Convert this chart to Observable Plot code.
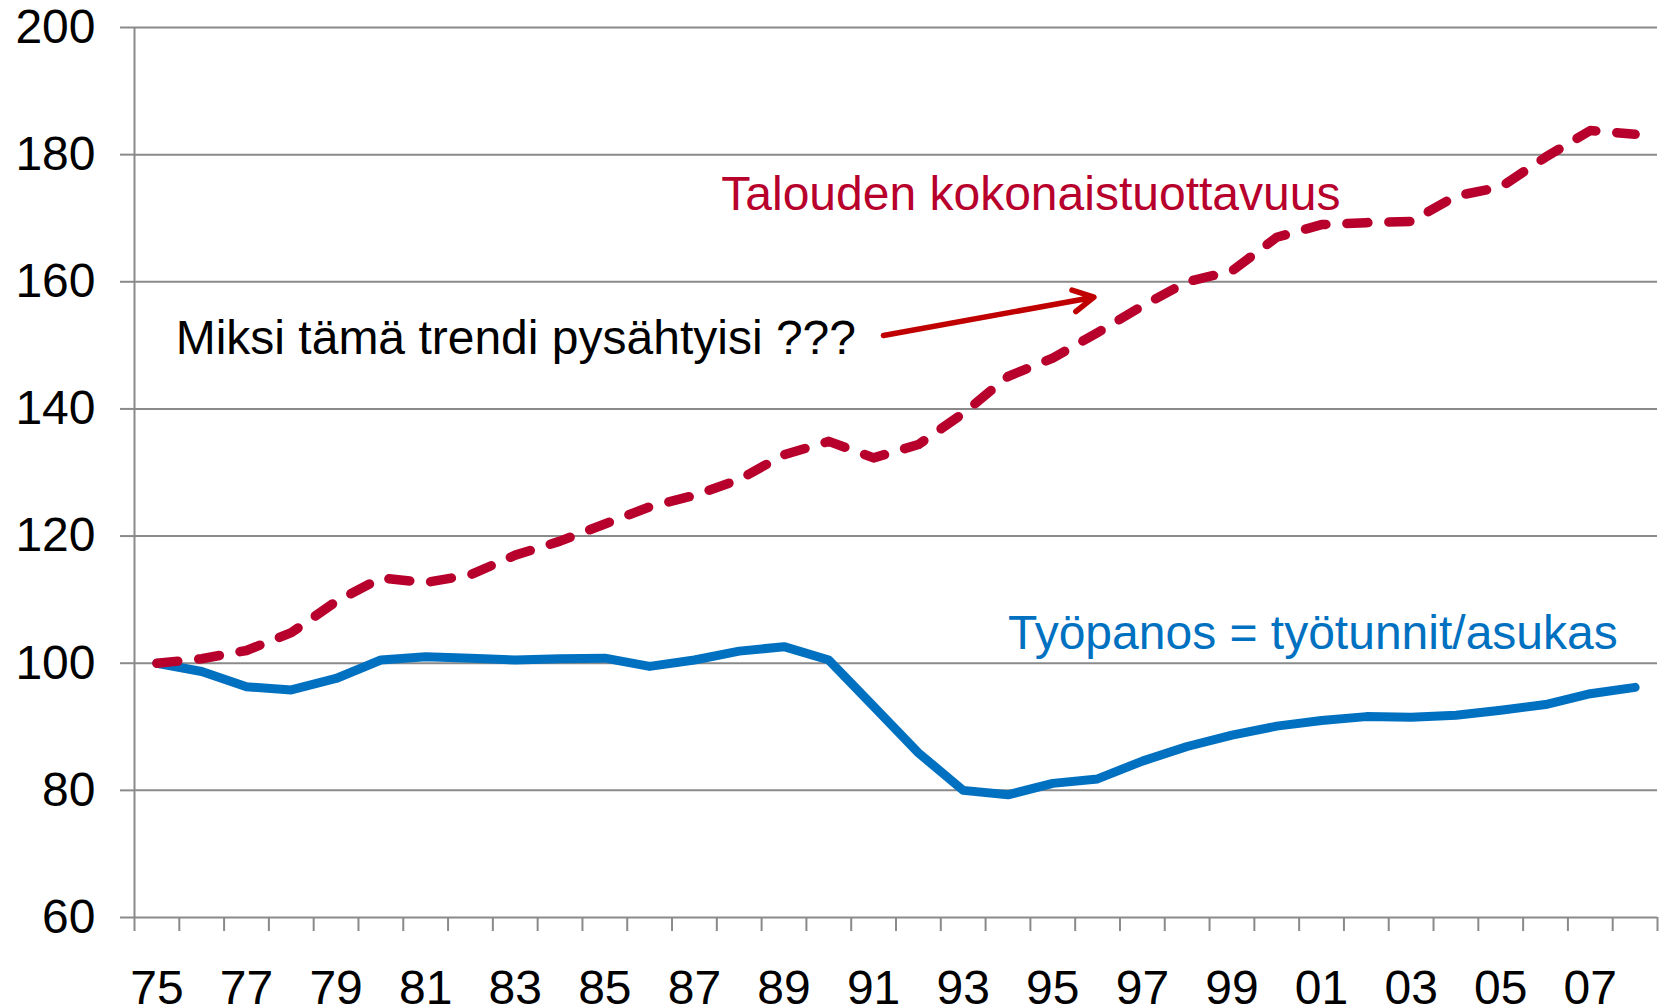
<!DOCTYPE html>
<html>
<head>
<meta charset="utf-8">
<script src="https://cdn.jsdelivr.net/npm/d3@7"></script>
<script src="https://cdn.jsdelivr.net/npm/@observablehq/plot@0.6"></script>
<style>
  html, body { margin: 0; padding: 0; background: #ffffff; }
  #chart { width: 1668px; height: 1008px; }
</style>
</head>
<body>
<div id="chart"></div>
<script>
// ---- Data ----
const years = [1975, 1976, 1977, 1978, 1979, 1980, 1981, 1982, 1983, 1984, 1985, 1986,
  1987, 1988, 1989, 1990, 1991, 1992, 1993, 1994, 1995, 1996, 1997, 1998, 1999, 2000,
  2001, 2002, 2003, 2004, 2005, 2006, 2007, 2008];

// Talouden kokonaistuottavuus (index 1975 = 100)
const tuottavuus = [100, 100.7, 102.0, 104.8, 109.7, 113.4, 112.7, 113.9, 117.0, 119.2,
  121.9, 124.6, 126.4, 128.9, 132.8, 134.9, 132.3, 134.4, 139.3, 145.1, 148.0, 152.0,
  156.2, 160.0, 161.7, 167.0, 169.0, 169.3, 169.5, 173.5, 174.9, 179.6, 183.8, 183.2];

// Työpanos = työtunnit/asukas (index 1975 = 100)
const tyopanos = [100, 98.7, 96.3, 95.8, 97.6, 100.5, 101.0, 100.8, 100.5, 100.7,
  100.8, 99.5, 100.5, 101.9, 102.6, 100.5, 93.2, 85.9, 80.0, 79.3, 81.1, 81.8,
  84.6, 86.9, 88.7, 90.1, 91.0, 91.6, 91.5, 91.8, 92.6, 93.5, 95.2, 96.2];

const yTicks = [60, 80, 100, 120, 140, 160, 180, 200];
const xLabelYears = [1975, 1977, 1979, 1981, 1983, 1985, 1987, 1989, 1991, 1993, 1995,
  1997, 1999, 2001, 2003, 2005, 2007];

// Annotations (data coordinates: year, index value)
const noteMiksi = [{x: 1975.42, y: 151.1, text: "Miksi tämä trendi pysähtyisi ???"}];
const noteTalous = [{x: 1987.6, y: 173.65, text: "Talouden kokonaistuottavuus"}];
const noteTyo = [{x: 1994.0, y: 104.67, text: "Työpanos = työtunnit/asukas"}];
const arrowData = [{x1: 1991.22, y1: 151.55, x2: 1995.92, y2: 157.58}];

// ---- Build ----
const rows = years.map((yr, i) => ({year: yr, tuottavuus: tuottavuus[i], tyopanos: tyopanos[i]}));
const xBounds = [years[0] - 0.5, ...years.map(y => y + 0.5)];

const gray = "#8a8a8a";
const red = "#B8002C";
const blue = "#0070C0";
const fs = 48;

const chart = Plot.plot({
  width: 1668,
  height: 1008,
  marginLeft: 134,
  marginRight: 11,
  marginTop: 27,
  marginBottom: 91,
  style: {fontFamily: "'Liberation Sans', Arial, sans-serif", background: "#ffffff", color: "#000"},
  x: {type: "linear", domain: [years[0] - 0.5, years[years.length - 1] + 0.5]},
  y: {domain: [60, 200]},
  marks: [
    Plot.gridY(yTicks, {stroke: gray, strokeOpacity: 1, strokeWidth: 2}),
    Plot.axisY(yTicks, {tickSize: 14, tickPadding: 25, stroke: gray, strokeWidth: 2, fontSize: fs, fill: "#000", label: null}),
    Plot.ruleX([years[0] - 0.5], {stroke: gray, strokeWidth: 2}),
    Plot.axisX(xBounds, {tickSize: 14, stroke: gray, strokeWidth: 2, fill: "none", label: null}),
    Plot.axisX(xLabelYears, {tickSize: 0, tickPadding: 52, fontSize: fs, fill: "#000",
      tickFormat: d => String(d).slice(2), label: null}),
    Plot.line(rows, {x: "year", y: "tyopanos", stroke: blue, strokeWidth: 9,
      strokeLinecap: "round", strokeLinejoin: "round"}),
    Plot.line(rows, {x: "year", y: "tuottavuus", stroke: red, strokeWidth: 9.5,
      strokeDasharray: "21,21", strokeLinecap: "round", strokeLinejoin: "round"}),
    Plot.arrow(arrowData, {x1: "x1", y1: "y1", x2: "x2", y2: "y2", stroke: "#C00000",
      strokeWidth: 5.5, headLength: 6.3, headAngle: 56, strokeLinecap: "round"}),
    Plot.text(noteMiksi, {x: "x", y: "y", text: "text", textAnchor: "start", lineAnchor: "middle",
      fontSize: fs, fill: "#000"}),
    Plot.text(noteTalous, {x: "x", y: "y", text: "text", textAnchor: "start", lineAnchor: "middle",
      fontSize: fs, fill: red}),
    Plot.text(noteTyo, {x: "x", y: "y", text: "text", textAnchor: "start", lineAnchor: "middle",
      fontSize: fs, fill: blue})
  ]
});

document.getElementById("chart").appendChild(chart);
</script>
</body>
</html>
